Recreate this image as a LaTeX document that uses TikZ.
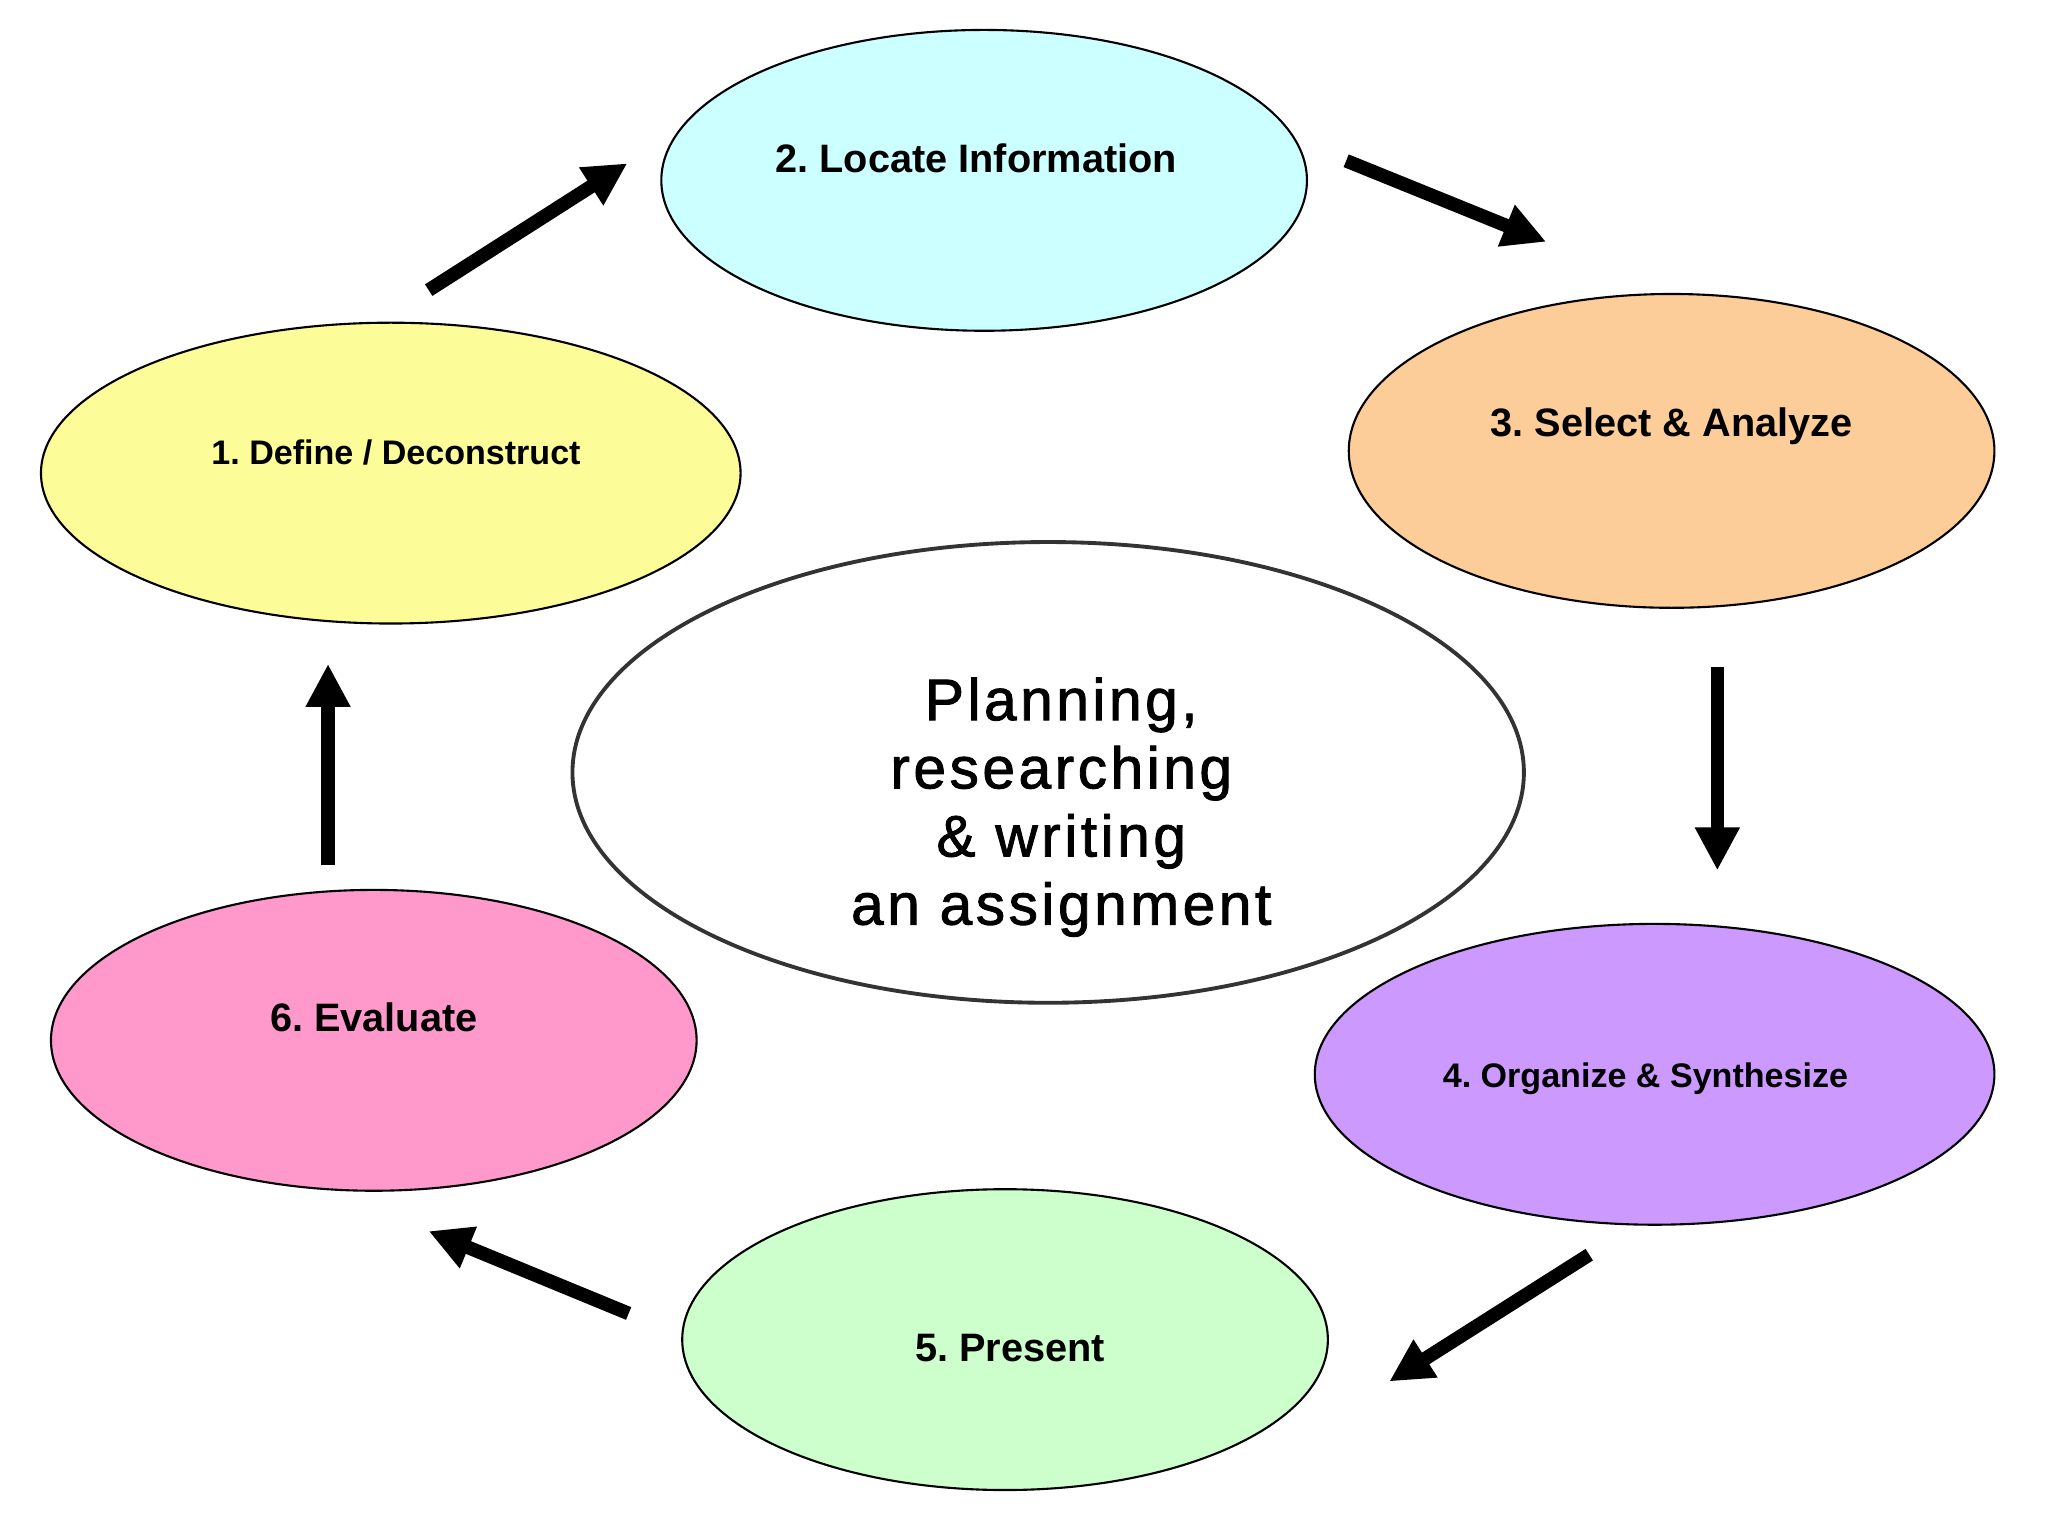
\documentclass[tikz,border=0pt]{standalone}
\usepackage{fontspec}
\setmainfont{Liberation Sans}
\newfontfamily\hubfont[LetterSpace=6,FakeBold=1.5]{Liberation Sans}
\usetikzlibrary{shapes.geometric,arrows.meta}
\frenchspacing
\definecolor{defineyellow}{HTML}{FCFC99}
\definecolor{locatecyan}{HTML}{CCFFFF}
\definecolor{selectorange}{HTML}{FCCC99}
\definecolor{organizepurple}{HTML}{CC99FF}
\definecolor{presentgreen}{HTML}{CCFFCC}
\definecolor{evaluatepink}{HTML}{FF99CC}
\definecolor{hubgray}{HTML}{333333}
\tikzset{
  stage/.style={ellipse, draw=black, line width=0.6pt, inner sep=0pt,
    minimum width=6.46cm, minimum height=3.01cm},
  hub/.style={ellipse, draw=hubgray, fill=white, line width=1.1pt, inner sep=0pt,
    minimum width=9.52cm, minimum height=4.61cm},
  bigtext/.style={inner sep=0pt, text depth=0pt, font=\fontsize{11.3pt}{13pt}\selectfont\bfseries},
  smalltext/.style={inner sep=0pt, text depth=0pt, font=\fontsize{9.7pt}{11pt}\selectfont\bfseries},
  hubtext/.style={inner sep=0pt, text depth=0pt, align=center,
    font=\fontsize{16.7pt}{19.4pt}\selectfont\hubfont},
  flow/.style={line width=3.9pt, black, -{Triangle[width=0.42cm, length=0.43cm]}}
}
\begin{document}
\begin{tikzpicture}[x=0.01307cm, y=-0.01307cm]
\useasboundingbox[fill=white] (0,0) rectangle (1567,1175.2);
% stages
\node[stage, fill=defineyellow, minimum width=7.0cm] (s1) at (299,362){};
\node[stage, fill=locatecyan] (s2) at (753,138){};
\node[stage, fill=selectorange, minimum height=3.14cm] (s3) at (1279,345){};
\node[stage, fill=organizepurple, minimum width=6.8cm] (s4) at (1266,822){};
\node[stage, fill=presentgreen] (s5) at (769,1025){};
\node[stage, fill=evaluatepink] (s6) at (286,796){};
\node[hub] (hub) at (802,591){};
% labels
\node[smalltext] (t1) at (303,346){1. Define / Deconstruct};
\node[bigtext] (t2) at (747,121){2. Locate Information};
\node[bigtext] (t3) at (1279,323){3. Select \& Analyze};
\node[smalltext] (t4) at (1259,823){4. Organize \& Synthesize};
\node[bigtext] (t5) at (773,1031){5. Present};
\node[bigtext] (t6) at (286,778){6. Evaluate};
\node[hubtext] (thub) at (812,613){Planning,\\researching\\\& writing\\an assignment};
% arrow ends
\coordinate (a1) at (328,222); \coordinate (b1) at (480,125);
\coordinate (a2) at (1030,123); \coordinate (b2) at (1183,185);
\coordinate (a3) at (1314,510); \coordinate (b3) at (1314,666);
\coordinate (a4) at (1216,960); \coordinate (b4) at (1063,1057);
\coordinate (a5) at (481,1005); \coordinate (b5) at (328,942);
\coordinate (a6) at (251,662); \coordinate (b6) at (251,508);
\draw[flow] (a1) -- (b1);
\draw[flow] (a2) -- (b2);
\draw[flow] (a3) -- (b3);
\draw[flow] (a4) -- (b4);
\draw[flow] (a5) -- (b5);
\draw[flow] (a6) -- (b6);
\end{tikzpicture}
\end{document}
